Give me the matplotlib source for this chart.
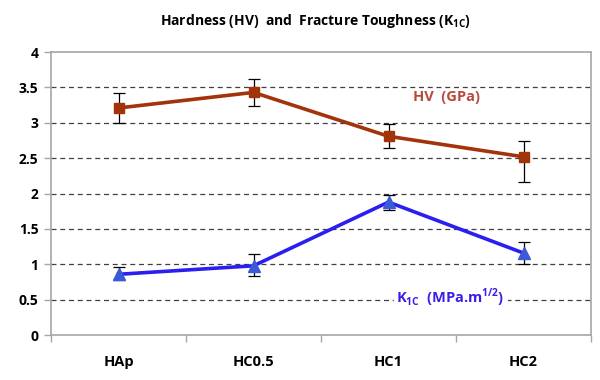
import matplotlib
matplotlib.use("Agg")
import matplotlib.pyplot as plt
import numpy as np

plt.rcParams['font.family'] = ['Open Sans', 'DejaVu Sans']
plt.rcParams['font.weight'] = 'bold'
plt.rcParams['mathtext.fontset'] = 'custom'
plt.rcParams['mathtext.rm'] = 'Open Sans:bold'
plt.rcParams['mathtext.bf'] = 'Open Sans:bold'

samples = ['HAp', 'HC0.5', 'HC1', 'HC2']
hv = [3.21, 3.43, 2.81, 2.52]
hv_err_low = [0.21, 0.19, 0.16, 0.35]
hv_err_high = [0.21, 0.19, 0.17, 0.23]
k1c = [0.86, 0.98, 1.88, 1.16]
k1c_err_low = [0.08, 0.15, 0.11, 0.16]
k1c_err_high = [0.10, 0.16, 0.10, 0.15]
yticks = [0, 0.5, 1, 1.5, 2, 2.5, 3, 3.5, 4]

fig = plt.figure(figsize=(6, 3.8), dpi=100)
ax = fig.add_axes([0.085, 0.118, 0.9, 0.745])

x = np.arange(len(samples))
frame = '#a6a6a6'

# dashed gridlines
for v in yticks[1:-1]:
    ax.axhline(v, color='#404040', lw=0.9, ls=(0, (4, 3)), zorder=1)

ax.errorbar(x, hv, yerr=[hv_err_low, hv_err_high], color='#a3330a', lw=2.6,
            marker='s', ms=7, mfc='#a3330a', mec='#a3330a',
            ecolor='black', elinewidth=0.9, capsize=4, capthick=0.9, zorder=3)
ax.errorbar(x, k1c, yerr=[k1c_err_low, k1c_err_high], color='#2a1ff0', lw=2.6,
            marker='^', ms=8, mfc='#3c5ad8', mec='#3c5ad8',
            ecolor='black', elinewidth=0.9, capsize=4, capthick=0.9, zorder=3)

ax.text(2.43, 3.36, 'HV  (GPa)', color='#b8493a', fontsize=10.5, fontweight='bold',
        ha='center', va='center', zorder=4)
ax.text(2.46, 0.53, r'K$_{\mathrm{1C}}$  (MPa.m$^{\mathrm{1/2}}$)', color='#3a1ee8',
        fontsize=10.5, fontweight='bold', ha='center', va='center', zorder=4,
        bbox=dict(facecolor='white', edgecolor='none', pad=2))

ax.set_xlim(-0.5, len(samples) - 0.5)
ax.set_ylim(0, 4)
ax.set_yticks(yticks)
ax.set_yticklabels([f'{v:g}' for v in yticks])
ax.set_xticks(x)
ax.set_xticklabels(samples)
ax.set_xticks(np.arange(len(samples) + 1) - 0.5, minor=True)
ax.tick_params(axis='x', which='major', length=0, pad=14, labelsize=10.5)
ax.tick_params(axis='x', which='minor', length=5, color=frame, width=1)
ax.tick_params(axis='y', length=5, color=frame, width=1, labelsize=10, pad=4)
for s in ax.spines.values():
    s.set_color(frame)
    s.set_linewidth(1.2)

fig.text(0.525, 0.945, r'Hardness (HV)  and  Fracture Toughness (K$_{\mathrm{1C}}$)',
         ha='center', va='center', fontsize=10, fontweight='bold')

fig.savefig('out.png', dpi=100)
